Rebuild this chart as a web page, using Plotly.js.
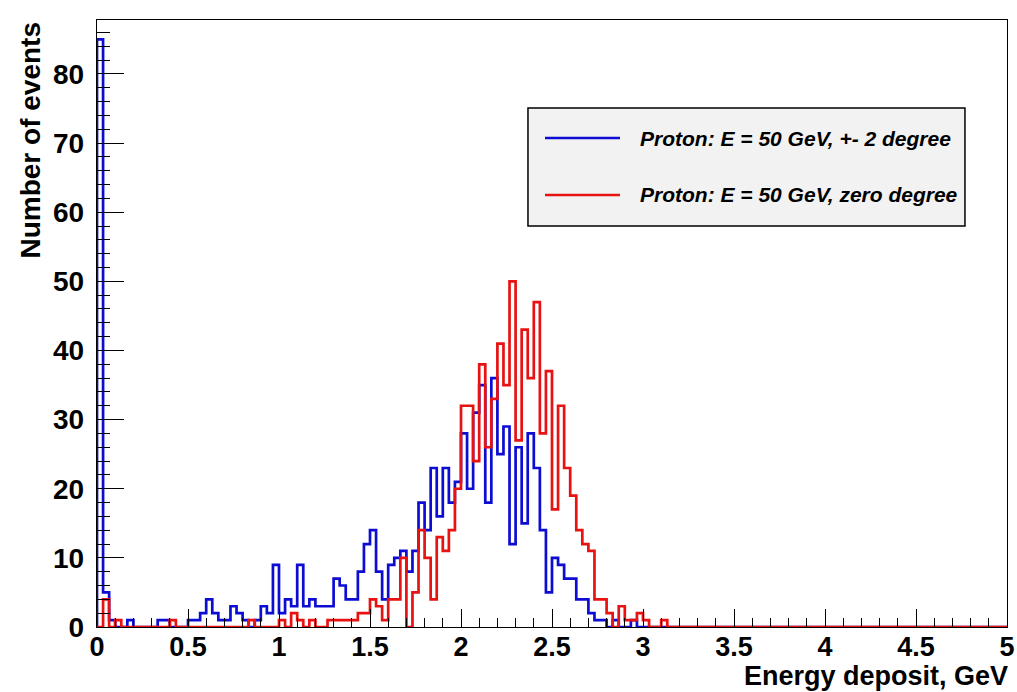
<!DOCTYPE html>
<html>
<head>
<meta charset="utf-8">
<script src="https://cdn.plot.ly/plotly-3.0.1.min.js"></script>
<style>html,body{margin:0;padding:0;background:#fff;}#chart{width:1017px;height:692px;}</style>
</head>
<body>
<div id="chart"></div>
<script>
// Histogram binning: 150 bins from 0 to 5 GeV
const nBins = 150;
const xMin = 0;
const xMax = 5;

const seriesNames = ["Proton: E = 50 GeV, +- 2 degree", "Proton: E = 50 GeV, zero degree"];

// Counts per bin, series 1 (blue)
const countsTilted = [
  85,5,1,0,0,1,0,0,0,0,
  1,1,0,0,0,1,1,2,4,2,
  1,1,3,2,1,0,1,3,2,9,
  2,4,3,9,3,4,3,3,3,7,
  6,4,4,8,12,14,8,4,9,10,
  11,8,11,18,14,23,16,23,18,21,
  28,20,31,35,18,36,25,29,12,26,
  15,28,23,14,5,10,9,7,7,4,
  4,2,1,1,0,1,0,0,1,0,
  0,0,0,0,0,0,0,0,0,0,
  0,0,0,0,0,0,0,0,0,0,
  0,0,0,0,0,0,0,0,0,0,
  0,0,0,0,0,0,0,0,0,0,
  0,0,0,0,0,0,0,0,0,0,
  0,0,0,0,0,0,0,0,0,0
];

// Counts per bin, series 2 (red)
const countsZero = [
  0,4,0,1,0,0,0,0,0,0,
  0,0,1,0,0,0,0,0,0,0,
  0,0,0,0,0,1,0,0,0,0,
  1,0,2,1,0,1,0,0,1,1,
  1,1,1,2,2,4,3,1,4,4,
  10,0,5,14,10,4,13,11,14,20,
  32,32,24,38,26,33,41,35,50,27,
  43,36,47,28,37,17,32,23,19,14,
  12,11,4,4,2,0,3,1,1,2,
  1,0,0,1,0,0,0,0,0,0,
  0,0,0,0,0,0,0,0,0,0,
  0,0,0,0,0,0,0,0,0,0,
  0,0,0,0,0,0,0,0,0,0,
  0,0,0,0,0,0,0,0,0,0,
  0,0,0,0,0,0,0,0,0,0
];

const xTitle = "Energy deposit, GeV";
const yTitle = "Number of events";

function stepTrace(counts, name, color) {
  const w = (xMax - xMin) / nBins;
  const xs = [xMin];
  const ys = [0];
  counts.forEach((c, i) => { xs.push(xMin + i * w); ys.push(c); });
  xs.push(xMax); ys.push(counts[counts.length - 1]);
  return {
    type: 'scatter', mode: 'lines', name: name,
    x: xs, y: ys,
    line: { shape: 'hv', color: color, width: 2.7 },
    hoverinfo: 'skip', showlegend: false
  };
}

const blue = '#0c0cd2';
const red = '#e81212';

const data = [
  stepTrace(countsTilted, seriesNames[0], blue),
  stepTrace(countsZero, seriesNames[1], red)
];

const fontFam = 'Liberation Sans, Arial, Helvetica, sans-serif';

const layout = {
  width: 1017, height: 692,
  margin: { l: 97, r: 10, t: 20, b: 65 },
  paper_bgcolor: '#ffffff', plot_bgcolor: '#ffffff',
  showlegend: false,
  xaxis: {
    range: [xMin, xMax], tick0: 0, dtick: 0.5,
    ticks: 'inside', ticklen: 18, tickwidth: 1, tickcolor: '#000',
    minor: { dtick: 0.1, ticks: 'inside', ticklen: 9, tickwidth: 1, tickcolor: '#000' },
    showline: true, linecolor: '#000', linewidth: 1.2, mirror: true,
    showgrid: false, zeroline: false,
    tickfont: { family: fontFam, size: 27, weight: 'bold', color: '#000' },
    ticklabelstandoff: -5,
    automargin: false, fixedrange: true
  },
  yaxis: {
    range: [0, 87.8], tick0: 0, dtick: 10,
    ticks: 'inside', ticklen: 27, tickwidth: 1, tickcolor: '#000',
    minor: { dtick: 2, ticks: 'inside', ticklen: 13, tickwidth: 1, tickcolor: '#000' },
    showline: true, linecolor: '#000', linewidth: 1.2, mirror: true,
    showgrid: false, zeroline: false,
    tickfont: { family: fontFam, size: 28, weight: 'bold', color: '#000' },
    ticklabelstandoff: 6,
    automargin: false, fixedrange: true
  },
  shapes: [
    { type: 'rect', xref: 'paper', yref: 'paper', x0: 0.4736, x1: 0.9538, y0: 0.6606, y1: 0.855,
      fillcolor: '#f2f2f2', line: { color: '#000', width: 1.5 }, layer: 'above' },
    { type: 'line', xref: 'paper', yref: 'paper', x0: 0.4923, x1: 0.5747, y0: 0.8056, y1: 0.8056,
      line: { color: blue, width: 2.7 }, layer: 'above' },
    { type: 'line', xref: 'paper', yref: 'paper', x0: 0.4923, x1: 0.5747, y0: 0.7117, y1: 0.7117,
      line: { color: red, width: 2.7 }, layer: 'above' }
  ],
  annotations: [
    { text: seriesNames[0], xref: 'paper', yref: 'paper', x: 0.5945, y: 0.8056,
      xanchor: 'left', yanchor: 'middle', showarrow: false,
      font: { family: fontFam, size: 21, weight: 'bold', style: 'italic', color: '#000' } },
    { text: seriesNames[1], xref: 'paper', yref: 'paper', x: 0.5945, y: 0.7117,
      xanchor: 'left', yanchor: 'middle', showarrow: false,
      font: { family: fontFam, size: 21, weight: 'bold', style: 'italic', color: '#000' } },
    { text: xTitle, xref: 'paper', yref: 'paper', x: 1.003, y: -0.0807,
      xanchor: 'right', yanchor: 'middle', showarrow: false,
      font: { family: fontFam, size: 27, weight: 'bold', color: '#000' } },
    { text: yTitle, xref: 'paper', yref: 'paper', x: -0.0736, y: 1.0,
      xanchor: 'center', yanchor: 'top', textangle: -90, showarrow: false,
      font: { family: fontFam, size: 28, weight: 'bold', color: '#000' } }
  ]
};

Plotly.newPlot('chart', data, layout, { staticPlot: true, displayModeBar: false });
</script>
</body>
</html>
